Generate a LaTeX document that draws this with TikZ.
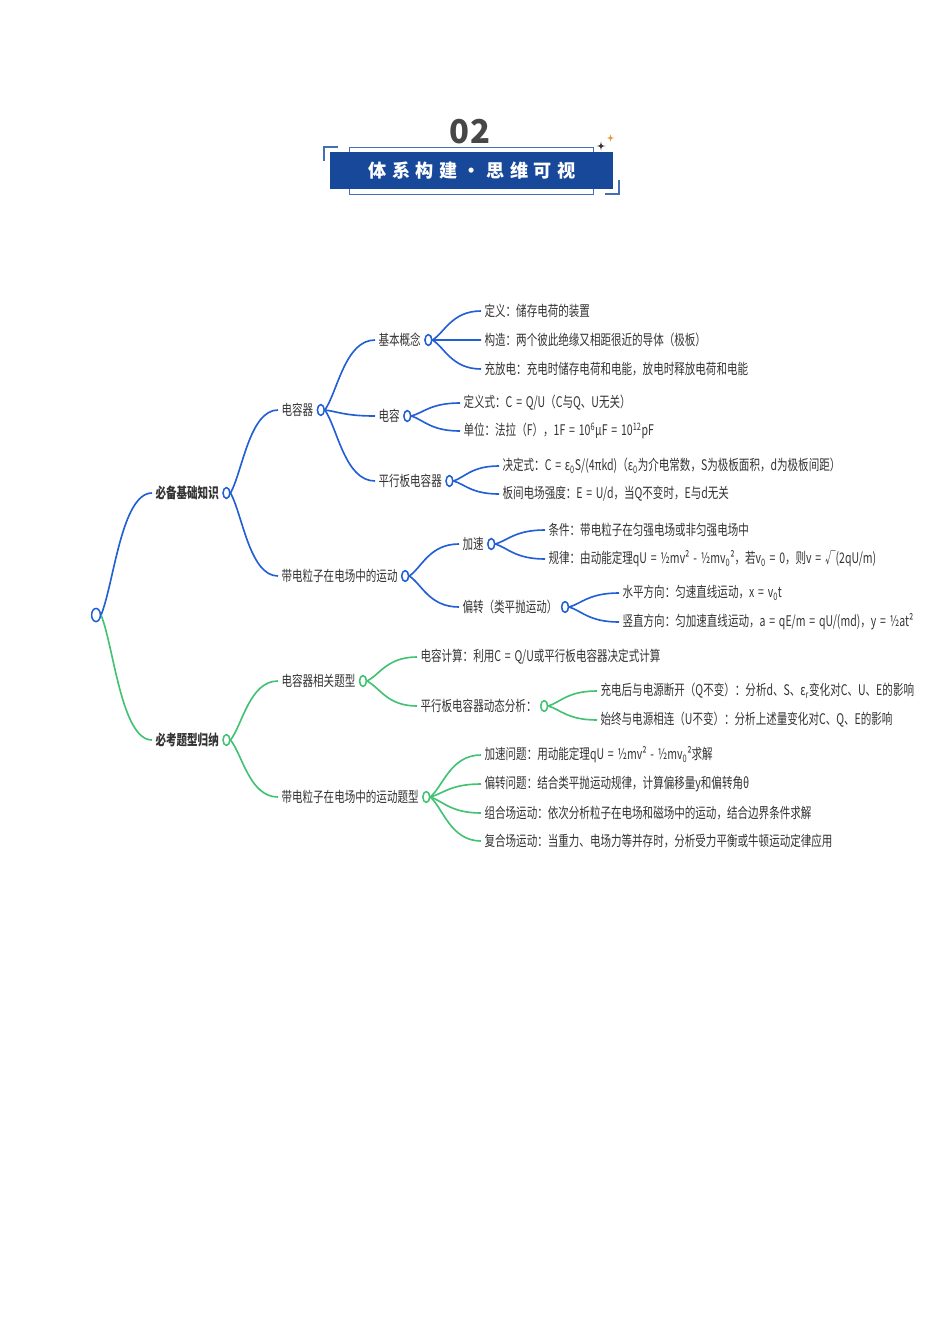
\documentclass[tikz,border=0pt]{standalone}
\usepackage{fontspec}
\setmainfont[FakeStretch=0.72, WordSpace=1.6]{Noto Sans CJK SC}
\newfontfamily\bannerfont[LetterSpace=30]{Noto Sans CJK SC}
\newfontfamily\numfont[LetterSpace=6]{Noto Sans CJK SC}
\usetikzlibrary{positioning,shapes.geometric,calc}

\definecolor{bluec}{RGB}{35,95,212}
\definecolor{greenc}{RGB}{66,194,114}
\definecolor{txtc}{RGB}{51,51,51}
\definecolor{bannerc}{RGB}{24,72,154}
\definecolor{framec}{RGB}{70,110,180}
\definecolor{orangec}{RGB}{232,150,50}

\tikzset{
    branch/.style={to path={.. controls ($(\tikztostart)!0.25!(\tikztotarget)$) and ($(\tikztotarget)!0.6!(\tikztostart |- \tikztotarget)$) .. (\tikztotarget) \tikztonodes}},
    txt/.style={anchor=west, inner xsep=1mm, inner ysep=0.5mm, text=txtc, font=\fontsize{12.5}{14}\selectfont},
    keytxt/.style={txt, font=\fontsize{12.5}{14}\selectfont\bfseries},
    dotb/.style={ellipse, draw=bluec, line width=1.2pt, fill=white, minimum width=2mm, minimum height=3.2mm, inner sep=0pt},
    dotg/.style={dotb, draw=greenc},
    blueln/.style={draw=bluec, line width=1.4pt},
    greenln/.style={draw=greenc, line width=1.4pt},
}

\begin{document}
\begin{tikzpicture}[x=0.3mm, y=-0.3mm]
    	\useasboundingbox (0,0) rectangle (950,1344);
    	% Title banner:
    	\draw[framec, line width=0.8pt] (349,147) rectangle (593,194);
    	\fill[bannerc] (330,152) rectangle (613,189);
    	\draw[framec, line width=1pt] (338,147) -- (324,147) -- (324,161);
    	\draw[framec, line width=1pt] (605,194) -- (619,194) -- (619,180);
    	\fill[txtc] (601,141.5) .. controls (601.6,145.4) .. (605.5,146) .. controls (601.6,146.6) .. (601,150.5) .. controls (600.4,146.6) .. (596.5,146) .. controls (600.4,145.4) .. cycle;
    	\fill[orangec] (610.5,134.5) .. controls (611,137.5) .. (614,138) .. controls (611,138.5) .. (610.5,141.5) .. controls (610,138.5) .. (607,138) .. controls (610,137.5) .. cycle;
    	\node[text=txtc!90, font=\fontsize{28}{30}\numfont\bfseries] (num) at (470,132) {02};
    	\node[text=white, font=\fontsize{15.5}{17}\bannerfont\bfseries] (title) at (472,171) {体系构建·思维可视};

    	% Nodes:
    	\node[dotb, minimum width=2.6mm, minimum height=3.9mm] (root) at (96,615) {};
    	\node[keytxt] (nA) at (152,493) {必备基础知识};
    	\node[dotb, right=0pt of nA] (cA) {};
    	\node[keytxt] (nB) at (152,740) {必考题型归纳};
    	\node[dotg, right=0pt of nB] (cB) {};

    	\node[txt] (nA1) at (278,410) {电容器};
    	\node[dotb, right=0pt of nA1] (cA1) {};
    	\node[txt] (nA2) at (278,576) {带电粒子在电场中的运动};
    	\node[dotb, right=0pt of nA2] (cA2) {};

    	\node[txt] (nA11) at (375,340) {基本概念};
    	\node[dotb, right=0pt of nA11] (cA11) {};
    	\node[txt] (nA12) at (375,416) {电容};
    	\node[dotb, right=0pt of nA12] (cA12) {};
    	\node[txt] (nA13) at (375,481) {平行板电容器};
    	\node[dotb, right=0pt of nA13] (cA13) {};

    	\node[txt] (l111) at (481,311) {定义：储存电荷的装置};
    	\node[txt] (l112) at (481,340) {构造：两个彼此绝缘又相距很近的导体（极板）};
    	\node[txt] (l113) at (481,369) {充放电：充电时储存电荷和电能，放电时释放电荷和电能};
    	\node[txt] (l121) at (460,403) {定义式：C = Q/U（C与Q、U无关）};
    	\node[txt] (l122) at (460,431) {单位：法拉（F），1F = 10\textsuperscript{6}μF = 10\textsuperscript{12}pF};
    	\node[txt] (l131) at (499,466) {决定式：C = ε\textsubscript{0}S/(4πkd)（ε\textsubscript{0}为介电常数，S为极板面积，d为极板间距）};
    	\node[txt] (l132) at (499,494) {板间电场强度：E = U/d，当Q不变时，E与d无关};

    	\node[txt] (nA21) at (459,544) {加速};
    	\node[dotb, right=0pt of nA21] (cA21) {};
    	\node[txt] (nA22) at (459,607) {偏转（类平抛运动）};
    	\node[dotb, right=0pt of nA22] (cA22) {};
    	\node[txt] (l211) at (545,530) {条件：带电粒子在匀强电场或非匀强电场中};
    	\node[txt] (l212) at (545,559) {规律：由动能定理qU = ½mv² - ½mv\textsubscript{0}²，若v\textsubscript{0} = 0，则v = √(2qU/m)};
    	\node[txt] (l221) at (619,593) {水平方向：匀速直线运动，x = v\textsubscript{0}t};
    	\node[txt] (l222) at (619,622) {竖直方向：匀加速直线运动，a = qE/m = qU/(md)，y = ½at²};

    	\node[txt] (nB1) at (278,681) {电容器相关题型};
    	\node[dotg, right=0pt of nB1] (cB1) {};
    	\node[txt] (nB2) at (278,797) {带电粒子在电场中的运动题型};
    	\node[dotg, right=0pt of nB2] (cB2) {};
    	\node[txt] (l311) at (417,657) {电容计算：利用C = Q/U或平行板电容器决定式计算};
    	\node[txt] (nB12) at (417,706) {平行板电容器动态分析：};
    	\node[dotg, right=0pt of nB12] (cB12) {};
    	\node[txt] (l321) at (597,691) {充电后与电源断开（Q不变）：分析d、S、ε\textsubscript{r}变化对C、U、E的影响};
    	\node[txt] (l322) at (597,720) {始终与电源相连（U不变）：分析上述量变化对C、Q、E的影响};
    	\node[txt] (l411) at (481,755) {加速问题：用动能定理qU = ½mv² - ½mv\textsubscript{0}²求解};
    	\node[txt] (l412) at (481,784) {偏转问题：结合类平抛运动规律，计算偏移量y和偏转角θ};
    	\node[txt] (l413) at (481,813) {组合场运动：依次分析粒子在电场和磁场中的运动，结合边界条件求解};
    	\node[txt] (l414) at (481,841) {复合场运动：当重力、电场力等并存时，分析受力平衡或牛顿运动定律应用};

    	% Branches:
    	\draw[blueln] (root.east) to[branch] (nA.west);
    	\draw[greenln] (root.east) to[branch] (nB.west);
    	\draw[blueln] (cA.east) to[branch] (nA1.west);
    	\draw[blueln] (cA.east) to[branch] (nA2.west);
    	\draw[blueln] (cA1.east) to[branch] (nA11.west);
    	\draw[blueln] (cA1.east) to[branch] (nA12.west);
    	\draw[blueln] (cA1.east) to[branch] (nA13.west);
    	\draw[blueln] (cA11.east) to[branch] (l111.west);
    	\draw[blueln] (cA11.east) to[branch] (l112.west);
    	\draw[blueln] (cA11.east) to[branch] (l113.west);
    	\draw[blueln] (cA12.east) to[branch] (l121.west);
    	\draw[blueln] (cA12.east) to[branch] (l122.west);
    	\draw[blueln] (cA13.east) to[branch] (l131.west);
    	\draw[blueln] (cA13.east) to[branch] (l132.west);
    	\draw[blueln] (cA2.east) to[branch] (nA21.west);
    	\draw[blueln] (cA2.east) to[branch] (nA22.west);
    	\draw[blueln] (cA21.east) to[branch] (l211.west);
    	\draw[blueln] (cA21.east) to[branch] (l212.west);
    	\draw[blueln] (cA22.east) to[branch] (l221.west);
    	\draw[blueln] (cA22.east) to[branch] (l222.west);
    	\draw[greenln] (cB.east) to[branch] (nB1.west);
    	\draw[greenln] (cB.east) to[branch] (nB2.west);
    	\draw[greenln] (cB1.east) to[branch] (l311.west);
    	\draw[greenln] (cB1.east) to[branch] (nB12.west);
    	\draw[greenln] (cB12.east) to[branch] (l321.west);
    	\draw[greenln] (cB12.east) to[branch] (l322.west);
    	\draw[greenln] (cB2.east) to[branch] (l411.west);
    	\draw[greenln] (cB2.east) to[branch] (l412.west);
    	\draw[greenln] (cB2.east) to[branch] (l413.west);
    	\draw[greenln] (cB2.east) to[branch] (l414.west);
    	% redraw the rings on top of the lines
    	\foreach \c in {cA,cA1,cA2,cA11,cA12,cA13,cA21,cA22}
    		\node[dotb] at (\c) {};
    	\foreach \c in {cB,cB1,cB2,cB12}
    		\node[dotg] at (\c) {};
    	\node[dotb, minimum width=2.6mm, minimum height=3.9mm] at (root) {};
    \end{tikzpicture}
\end{document}
